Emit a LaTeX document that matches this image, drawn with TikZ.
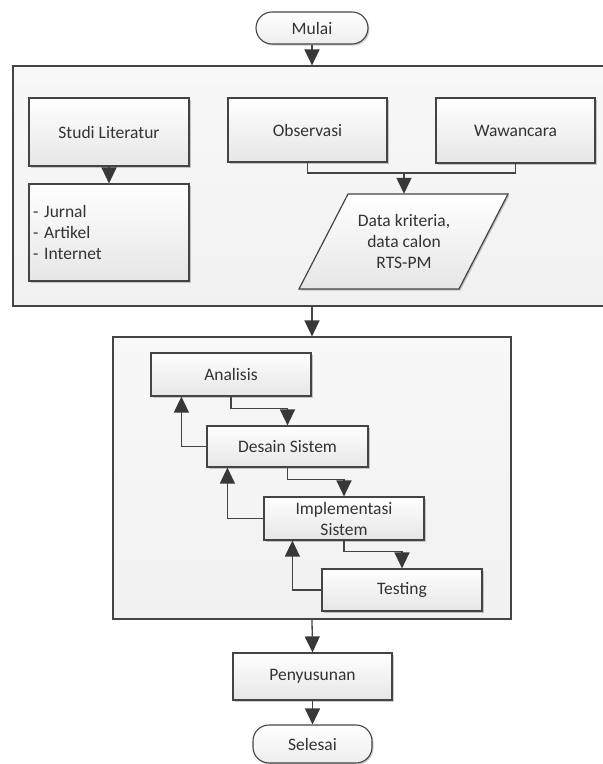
\documentclass[tikz,border=0pt]{standalone}
\usepackage{fontspec}
\setmainfont{Carlito}
\usetikzlibrary{arrows.meta,shadows}
\definecolor{edge}{HTML}{444444}
\definecolor{tipc}{HTML}{383838}
\definecolor{ink}{HTML}{333333}
\definecolor{panel}{HTML}{F1F1F1}
\definecolor{boxlo}{HTML}{E6E6E6}
\begin{document}
\begin{tikzpicture}[x=1pt,y=-1pt,
  every node/.style={font=\fontsize{17.5}{21}\selectfont, text=ink},
  softshadow/.style={drop shadow={shadow xshift=1.5pt, shadow yshift=-1.5pt, opacity=0.2, fill=black}},
  panelbox/.style={draw=edge, line width=1.2pt, top color=panel!50!white, bottom color=panel, inner sep=0pt},
  stepbox/.style={draw=edge, line width=1.2pt, top color=white, bottom color=boxlo, inner sep=2pt, softshadow},
  term/.style={draw=edge, line width=1.1pt, rounded corners=16pt, top color=white, bottom color=boxlo!70!white, inner sep=2pt, softshadow},
  ioshape/.style={draw=edge, line width=1.2pt, top color=white, bottom color=boxlo, softshadow},
  link/.style={draw=edge, line width=1.3pt},
  flow/.style={link, -{Triangle[length=16pt,width=15pt,color=tipc]}}
]
\useasboundingbox (0,0) rectangle (603,764);
\fill[white] (0,0) rectangle (603,764);

% containers of the two phases
\node[panelbox, minimum width=598pt, minimum height=240pt] (box1) at (312,186) {};
\node[panelbox, minimum width=398pt, minimum height=282pt] (box2) at (312,478) {};

% start / end terminals
\node[term, minimum width=112pt, minimum height=32pt] (mulai) at (312,28) {Mulai};
\node[term, minimum width=119pt, minimum height=38pt] (selesai) at (312.5,744) {Selesai};

% data collection
\node[stepbox, minimum width=160pt, minimum height=68pt] (studi) at (109,132) {Studi Literatur};
\node[stepbox, minimum width=159pt, minimum height=64pt] (obs) at (307.5,130) {Observasi};
\node[stepbox, minimum width=159pt, minimum height=65pt] (waw) at (515.5,130.5) {Wawancara};
\node[stepbox, minimum width=160pt, minimum height=97pt, text width=152pt, align=left, inner xsep=4pt] (lst) at (109,232.5) {- Jurnal\\- Artikel\\- Internet};

% data parallelogram
\path[ioshape] (299,289) -- (348,194) -- (508,194) -- (459,289) -- cycle;
\node[align=center, minimum height=95pt, minimum width=110pt, inner sep=0pt] (data) at (404,241.5) {Data kriteria,\\data calon\\RTS-PM};
\coordinate (merge) at (404,173);

% development stages
\node[stepbox, minimum width=160pt, minimum height=43pt] (ana) at (231,374.5) {Analisis};
\node[stepbox, minimum width=161pt, minimum height=41pt] (des) at (287.5,446.5) {Desain Sistem};
\node[stepbox, minimum width=160pt, minimum height=43pt, align=center, inner sep=1pt] (imp) at (344,518.5) {Implementasi\\Sistem};
\node[stepbox, minimum width=160pt, minimum height=42pt] (tes) at (402,590) {Testing};

\node[stepbox, minimum width=159pt, minimum height=47pt] (pen) at (312.5,676.5) {Penyusunan};

% connectors
\draw[flow] (mulai.south) -- (box1.north);
\draw[flow] (studi.south) -- (lst.north);
\draw[link] (obs.south) -- (obs.south |- merge) -- (waw.south |- merge) -- (waw.south);
\draw[flow] (merge) -- (data.north);
\draw[flow] (box1.south) -- (box2.north);

\draw[flow] (ana.south) -- ++(0,12) -| (des.north);
\draw[flow] (des.south) -- ++(0,12) -| (imp.north);
\draw[flow] (imp.south) -- ++(0,11) -| (tes.north);
\draw[flow] (des.west) -| ([xshift=31pt]ana.south west);
\draw[flow] (imp.west) -| ([xshift=21pt]des.south west);
\draw[flow] (tes.west) -| ([xshift=29pt]imp.south west);

\draw[flow] (box2.south) -- (pen.north);
\draw[flow] (pen.south) -- (selesai.north);
\end{tikzpicture}
\end{document}
